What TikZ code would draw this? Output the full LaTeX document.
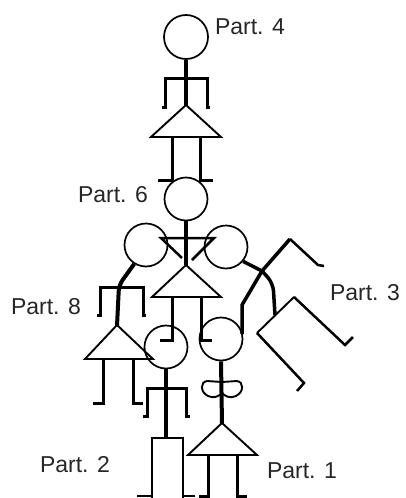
\documentclass[tikz,border=0pt]{standalone}
\usepackage{fontspec}
\setmainfont{Liberation Sans}
\usetikzlibrary{positioning}

\begin{document}
\begin{tikzpicture}[x=1pt, y=-1pt,
    head/.style={draw, circle, line width=1.7pt, inner sep=0pt, minimum size=43pt},
    spine/.style={line width=4pt},
    limb/.style={line width=3pt},
    outline/.style={line width=1.9pt},
    tag/.style={font=\fontsize{23}{23}\selectfont, text=black!85, inner sep=0pt}]
  \clip (0,0) rectangle (405,498);

  % heads
  \node[head, minimum size=44pt] (head4) at (186,37) {};
  \node[head] (head6) at (186,199) {};
  \node[head] (head8) at (146,245) {};
  \node[head] (head3) at (226,247) {};
  \node[head] (head2) at (166,347) {};
  \node[head] (head1) at (221,339) {};

  % labels
  \node[tag] (lbl4) at (250,27) {Part. 4};
  \node[tag] (lbl6) at (113,195) {Part. 6};
  \node[tag] (lbl8) at (46,307) {Part. 8};
  \node[tag] (lbl3) at (365,293) {Part. 3};
  \node[tag] (lbl2) at (75,465) {Part. 2};
  \node[tag] (lbl1) at (302,471) {Part. 1};

  % part 4
  \draw[spine] (head4.south) -- (186,106);
  \draw[limb] (162,107) -- (165,107) -- (165,78) -- (207,78) -- (207,107) -- (210,107);
  \draw[outline] (186,105) -- (221,137) -- (151,137) -- cycle;
  \draw[limb] (158,180) -- (172,180) -- (172,137);
  \draw[limb] (200,137) -- (200,180) -- (213,180);

  % part 6
  \draw[spine] (head6.south) -- (186,266);
  \draw[limb, line width=2.5pt] (182,258) -- (161,238) -- (214,238) -- (192,260);
  \draw[outline] (186,265) -- (221,297) -- (152,297) -- cycle;
  \draw[limb] (172,297) -- (172,340) -- (160,340);
  \draw[limb] (201,297) -- (201,340) -- (212,340);

  % part 8
  \draw[spine, rounded corners=6pt] (head8.238) -- (119,285) -- (117,326);
  \draw[limb] (97,315) -- (100,315) -- (100,287) -- (143,287) -- (143,315) -- (146,315);
  \draw[outline] (117,325) -- (153,359) -- (85,359) -- cycle;
  \draw[limb] (103,359) -- (103,403) -- (93,403);
  \draw[limb] (133,359) -- (133,403) -- (143,403);

  % part 3
  \draw[spine, line width=3.5pt] (head3.-40) -- (262,271);
  \draw[spine, line width=3.5pt] (262,271) -- (290,239);
  \draw[limb, line width=2.5pt] (290,239) -- (318,265) -- (324,266);
  \draw[spine, line width=3.5pt] (262,271) -- (242,305) -- (242,334);
  \draw[spine, line width=3.5pt, rounded corners=8pt] (262,271) -- (273,283) -- (275,315);
  \draw[outline] (257,333) -- (294,297);
  \draw[limb, line width=2.5pt] (294,297) -- (345,345) -- (353,337);
  \draw[limb, line width=2.5pt] (257,333) -- (304,383) -- (297,391);

  % part 2
  \draw[spine] (head2.south) -- (166,438);
  \draw[limb] (143,416) -- (147,416) -- (147,388) -- (186,388) -- (186,416) -- (190,416);
  \draw[outline] (152,438) rectangle (183,510);
  \draw[outline] (137,496) -- (152,496);
  \draw[outline] (183,496) -- (195,496);

  % part 1
  \draw[spine] (head1.south) -- (222,424);
  \draw[outline] (222,382) -- (207,381) .. controls (200,382) and (200,392) .. (208,396)
    .. controls (214,399) and (219,396) .. (222,393);
  \draw[outline] (222,382) -- (237,381) .. controls (244,382) and (244,392) .. (236,396)
    .. controls (230,399) and (225,396) .. (222,393);
  \draw[outline] (222,423) -- (257,455) -- (188,455) -- cycle;
  \draw[limb] (208,455) -- (208,496) -- (199,496);
  \draw[limb] (237,455) -- (237,496) -- (247,496);
\end{tikzpicture}
\end{document}
